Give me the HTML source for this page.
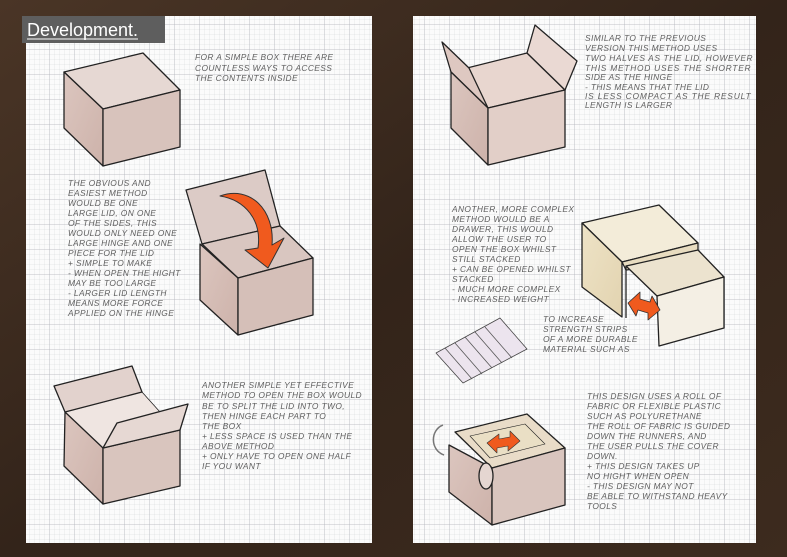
<!DOCTYPE html>
<html><head><meta charset="utf-8"><style>
html,body{margin:0;padding:0;width:787px;height:557px;overflow:hidden;background:#3b2a1f}
svg{display:block}
.h{font-family:"Liberation Sans",sans-serif;font-style:italic;font-size:8.4px;fill:#606060;letter-spacing:0.4px}
</style></head><body>
<svg width="787" height="557" viewBox="0 0 787 557" xmlns="http://www.w3.org/2000/svg">
<defs>
<linearGradient id="wood" x1="0" y1="0" x2="1" y2="1">
<stop offset="0" stop-color="#4a3526"/><stop offset="0.5" stop-color="#33241a"/><stop offset="1" stop-color="#3d2b1e"/>
</linearGradient>
<pattern id="minor" width="5" height="5" patternUnits="userSpaceOnUse"><path d="M5 0V5H0" fill="none" stroke="#d2d4d8" stroke-width="0.5"/></pattern>
<pattern id="major" width="25" height="25" patternUnits="userSpaceOnUse"><path d="M25 0V25H0" fill="none" stroke="#b3b6bc" stroke-width="0.8"/></pattern>
<linearGradient id="pink" x1="0" y1="0" x2="1" y2="1"><stop offset="0" stop-color="#dcc6bf"/><stop offset="1" stop-color="#cdb2aa"/></linearGradient>
<linearGradient id="cream" x1="0" y1="0" x2="1" y2="1"><stop offset="0" stop-color="#eee3c6"/><stop offset="1" stop-color="#e2d3b0"/></linearGradient>
</defs>
<rect width="787" height="557" fill="url(#wood)"/>
<g>
<rect x="26" y="16" width="346" height="527" fill="#fbfbfb"/>
<rect x="26" y="16" width="346" height="527" fill="url(#minor)"/>
<rect x="26" y="16" width="346" height="527" fill="url(#major)"/>
<rect x="413" y="16" width="343" height="527" fill="#fbfbfb"/>
<rect x="413" y="16" width="343" height="527" fill="url(#minor)"/>
<rect x="413" y="16" width="343" height="527" fill="url(#major)"/>
</g>
<rect x="22" y="16" width="143" height="27" fill="#5e5e5e"/>
<text x="27" y="36" font-family="Liberation Sans,sans-serif" font-size="18" fill="#fff">Development.</text>
<line x1="27" y1="39" x2="138" y2="39" stroke="#fff" stroke-width="1"/>

<g stroke="#222" stroke-width="1.3" stroke-linejoin="round">
<!-- box1 -->
<polygon points="64,72 143,53 180,90 103,109" fill="#e6d8d3"/>
<polygon points="64,72 103,109 103,166 64,128" fill="url(#pink)"/>
<polygon points="103,109 180,90 180,147 103,166" fill="#d8c3bc"/>
<!-- box2 -->
<polygon points="186,190 265,170 280,226 202,244" fill="#dccbc6"/>
<polygon points="202,244 280,226 313,258 238,278" fill="#d9c6c0"/>
<polygon points="200,244 238,278 238,335 200,300" fill="url(#pink)"/>
<polygon points="238,278 313,258 313,315 238,335" fill="#d5bfb8"/>
<path d="M220,196 C250,185 275,210 272,245 L284,238 L268,268 L245,250 L258,248 C262,220 245,200 220,196Z" fill="#f05a1e" stroke="#333" stroke-width="1"/>
<!-- box3 -->
<polygon points="65,412 142,392 160,412 103,448" fill="#efe5e1" stroke-width="0.8"/>
<polygon points="54,386 132,366 142,392 65,412" fill="#e2d2cd"/>
<polygon points="65,412 103,448 103,504 64,466" fill="url(#pink)"/>
<polygon points="103,448 180,430 180,486 103,504" fill="#d9c5be"/>
<polygon points="117,423 188,404 180,430 103,448" fill="#e6d8d3"/>
<!-- box4 -->
<polygon points="451,72 527,53 565,90 488,108" fill="#e8d6cf"/>
<polygon points="442,42 469,68 488,108 451,72" fill="#dec8c1"/>
<polygon points="535,25 577,61 565,90 527,53" fill="#ead9d3"/>
<polygon points="451,72 488,108 488,165 451,128" fill="url(#pink)"/>
<polygon points="488,108 565,90 565,147 488,165" fill="#e2cfc8"/>
<!-- drawer -->
<polygon points="582,223 659,205 698,243 622,262" fill="#f3ecd9"/>
<polygon points="582,223 622,262 622,317 582,287" fill="url(#cream)"/>
<polygon points="622,262 698,243 698,262 626,270" fill="#e8dcc0"/>
<polygon points="626,266 698,250 724,277 657,296" fill="#ece3cf"/>
<polygon points="657,296 724,277 724,328 659,346" fill="#f4efe4"/>
<line x1="626" y1="266" x2="626" y2="318"/>
<polygon points="628,303 640,292 640,299 650,302 652,296 660,310 648,320 648,313 638,310 636,316" fill="#f05a1e" stroke="#333" stroke-width="0.8"/>
<!-- stripes panel -->
<polygon points="436,353 500,318 527,349 463,383" fill="#ece4ee" stroke="#444" stroke-width="0.8"/>
<g stroke="#555" stroke-width="0.8"><line x1="445" y1="348" x2="472" y2="379"/><line x1="455" y1="343" x2="482" y2="374"/><line x1="465" y1="337" x2="492" y2="368"/><line x1="475" y1="332" x2="502" y2="363"/><line x1="485" y1="327" x2="512" y2="358"/></g>
<!-- roller box -->
<polygon points="455,432 527,414 565,448 492,468" fill="#e9dcc8"/>
<polygon points="449,445 492,468 492,525 449,492" fill="url(#pink)"/>
<polygon points="492,468 565,448 565,505 492,525" fill="#d9c5be"/>
<polygon points="470,436 525,424 545,444 490,458" fill="#eadfc5" stroke-width="0.6"/>
<ellipse cx="486" cy="476" rx="7" ry="13" fill="#e5d6d1"/>
<polygon points="487,443 499,434 499,439 510,437 510,431 520,441 508,451 508,446 497,448 497,453" fill="#f05a1e" stroke="#333" stroke-width="0.6"/>
</g>
<path d="M443,425 C430,430 430,450 444,455" fill="none" stroke="#777" stroke-width="1.5"/>

<g class="h">
<text x="195" y="60">FOR A SIMPLE BOX THERE ARE</text>
<text x="195" y="71">COUNTLESS WAYS TO ACCESS</text>
<text x="195" y="81">THE CONTENTS INSIDE</text>

<text x="68" y="186">THE OBVIOUS AND</text>
<text x="68" y="196">EASIEST METHOD</text>
<text x="68" y="206">WOULD BE ONE</text>
<text x="68" y="216">LARGE LID, ON ONE</text>
<text x="68" y="226">OF THE SIDES, THIS</text>
<text x="68" y="236">WOULD ONLY NEED ONE</text>
<text x="68" y="246">LARGE HINGE AND ONE</text>
<text x="68" y="256">PIECE FOR THE LID</text>
<text x="68" y="266">+ SIMPLE TO MAKE</text>
<text x="68" y="276">- WHEN OPEN THE HIGHT</text>
<text x="68" y="286">MAY BE TOO LARGE</text>
<text x="68" y="296">- LARGER LID LENGTH</text>
<text x="68" y="306">MEANS MORE FORCE</text>
<text x="68" y="316">APPLIED ON THE HINGE</text>

<text x="202" y="388">ANOTHER SIMPLE YET EFFECTIVE</text>
<text x="202" y="398">METHOD TO OPEN THE BOX WOULD</text>
<text x="202" y="409">BE TO SPLIT THE LID INTO TWO,</text>
<text x="202" y="419">THEN HINGE EACH PART TO</text>
<text x="202" y="429">THE BOX</text>
<text x="202" y="439">+ LESS SPACE IS USED THAN THE</text>
<text x="202" y="449">ABOVE METHOD</text>
<text x="202" y="459">+ ONLY HAVE TO OPEN ONE HALF</text>
<text x="202" y="469">IF YOU WANT</text>

<text x="585" y="41">SIMILAR TO THE PREVIOUS</text>
<text x="585" y="51">VERSION THIS METHOD USES</text>
<text x="585" y="61" textLength="168">TWO HALVES AS THE LID, HOWEVER</text>
<text x="585" y="71" textLength="166">THIS METHOD USES THE SHORTER</text>
<text x="585" y="80">SIDE AS THE HINGE</text>
<text x="585" y="90">- THIS MEANS THAT THE LID</text>
<text x="585" y="99" textLength="166">IS LESS COMPACT AS THE RESULT</text>
<text x="585" y="108">LENGTH IS LARGER</text>

<text x="452" y="212">ANOTHER, MORE COMPLEX</text>
<text x="452" y="222">METHOD WOULD BE A</text>
<text x="452" y="232">DRAWER, THIS WOULD</text>
<text x="452" y="242">ALLOW THE USER TO</text>
<text x="452" y="252">OPEN THE BOX WHILST</text>
<text x="452" y="262">STILL STACKED</text>
<text x="452" y="272">+ CAN BE OPENED WHILST</text>
<text x="452" y="282">STACKED</text>
<text x="452" y="292">- MUCH MORE COMPLEX</text>
<text x="452" y="302">- INCREASED WEIGHT</text>

<text x="543" y="322">TO INCREASE</text>
<text x="543" y="332">STRENGTH STRIPS</text>
<text x="543" y="342">OF A MORE DURABLE</text>
<text x="543" y="352">MATERIAL SUCH AS</text>

<text x="587" y="399">THIS DESIGN USES A ROLL OF</text>
<text x="587" y="409">FABRIC OR FLEXIBLE PLASTIC</text>
<text x="587" y="419">SUCH AS POLYURETHANE</text>
<text x="587" y="429">THE ROLL OF FABRIC IS GUIDED</text>
<text x="587" y="439">DOWN THE RUNNERS, AND</text>
<text x="587" y="449">THE USER PULLS THE COVER</text>
<text x="587" y="459">DOWN.</text>
<text x="587" y="469">+ THIS DESIGN TAKES UP</text>
<text x="587" y="479">NO HIGHT WHEN OPEN</text>
<text x="587" y="489">- THIS DESIGN MAY NOT</text>
<text x="587" y="499">BE ABLE TO WITHSTAND HEAVY</text>
<text x="587" y="509">TOOLS</text>
</g>
</svg>
</body></html>
